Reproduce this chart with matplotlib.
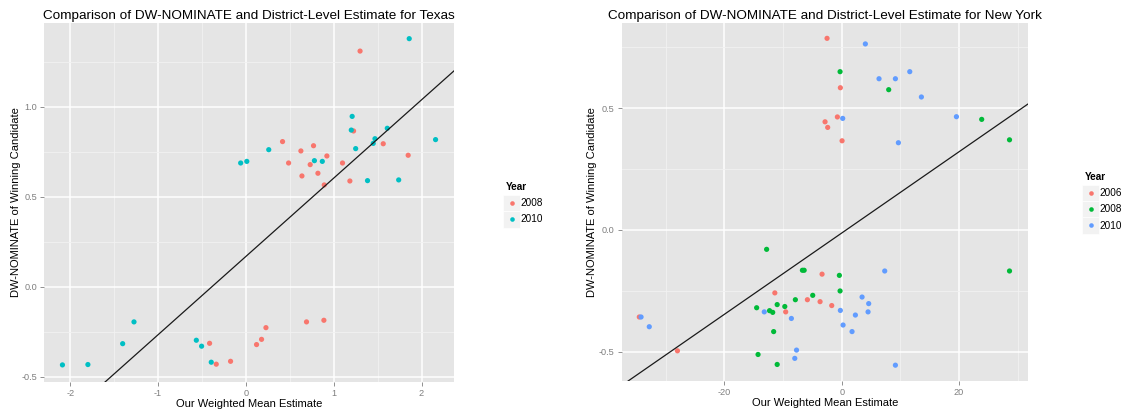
import matplotlib
matplotlib.use("Agg")
import matplotlib.pyplot as plt
from matplotlib.lines import Line2D
from matplotlib.patches import Rectangle
from matplotlib.ticker import MultipleLocator

plt.rcParams["font.family"] = ["Liberation Sans", "DejaVu Sans"]
plt.rcParams["axes.unicode_minus"] = False

# ---------------- Texas ----------------
tx_2008_x = [1.30, 1.226, 0.417, 0.770, 0.626, 1.564, 1.848, 0.922, 0.486, 0.732,
             1.10, 0.82, 0.638, 1.184, 0.892, 0.69, 0.888, 0.228, 0.178, 0.121,
             -0.414, -0.338, -0.175]
tx_2008_y = [1.309, 0.865, 0.806, 0.783, 0.754, 0.794, 0.730, 0.726, 0.687, 0.678,
             0.687, 0.630, 0.615, 0.587, 0.565, -0.196, -0.187, -0.228, -0.293, -0.322,
             -0.315, -0.431, -0.415]
tx_2010_x = [1.86, 1.21, 1.20, 1.61, 1.47, 1.45, 2.16, 1.25, 0.26, -0.06,
             0.01, 0.78, 0.87, 1.385, 1.74, -1.275, -1.404, -0.565, -0.505, -0.395,
             -2.09, -1.80]
tx_2010_y = [1.378, 0.946, 0.870, 0.880, 0.822, 0.796, 0.817, 0.767, 0.761, 0.687,
             0.696, 0.700, 0.696, 0.589, 0.593, -0.196, -0.317, -0.298, -0.331, -0.420,
             -0.435, -0.433]
tx_fit = (0.168, 0.435)  # intercept, slope

# ---------------- New York ----------------
ny_2006_x = [-2.5, -0.23, -0.74, -2.84, -2.39, 0.06, -34.5, -28.0, -3.35, -11.4,
             -5.85, -3.69, -1.70, -9.55]
ny_2006_y = [0.787, 0.584, 0.464, 0.444, 0.421, 0.366, -0.358, -0.497, -0.182, -0.259,
             -0.287, -0.295, -0.311, -0.337]
ny_2008_x = [-0.28, 8.01, 23.86, 28.6, -12.8, -6.7, -6.4, -0.4, -0.28, -4.94,
             -7.9, -14.5, -12.3, -11.76, -11.0, -9.7, -11.6, -14.26, -11.0, 28.6]
ny_2008_y = [0.650, 0.576, 0.454, 0.370, -0.080, -0.166, -0.166, -0.187, -0.251, -0.269,
             -0.287, -0.320, -0.332, -0.339, -0.307, -0.315, -0.418, -0.512, -0.553, -0.169]
ny_2010_x = [4.03, 6.36, 9.15, 11.6, 13.58, 0.17, 19.55, 9.66, -34.2, -32.8,
             7.33, -13.2, -8.58, -0.23, 3.47, 4.6, 4.49, 2.33, 0.23, 1.76,
             -7.7, -8.0, 9.15]
ny_2010_y = [0.764, 0.621, 0.621, 0.650, 0.546, 0.458, 0.465, 0.358, -0.358, -0.398,
             -0.169, -0.337, -0.364, -0.331, -0.276, -0.303, -0.337, -0.350, -0.391, -0.418,
             -0.494, -0.528, -0.556]
ny_fit = (-0.013, 0.0167)

RED, TEAL = "#F8766D", "#00BFC4"
GREEN, BLUE = "#00BA38", "#619CFF"

W, H = 1125, 415
fig = plt.figure(figsize=(W / 100, H / 100), dpi=100)


def px_axes(x0, x1, y0, y1):
    return fig.add_axes([x0 / W, 1 - y1 / H, (x1 - x0) / W, (y1 - y0) / H])


def style(ax, xmaj, xmin, ymaj, ymin):
    ax.set_facecolor("#E5E5E5")
    for s in ax.spines.values():
        s.set_visible(False)
    ax.xaxis.set_major_locator(MultipleLocator(xmaj))
    ax.xaxis.set_minor_locator(MultipleLocator(xmin))
    ax.yaxis.set_major_locator(MultipleLocator(ymaj))
    ax.yaxis.set_minor_locator(MultipleLocator(ymin))
    ax.grid(which="major", color="white", linewidth=1.1)
    ax.grid(which="minor", color="#F2F2F2", linewidth=0.6)
    ax.set_axisbelow(True)
    ax.tick_params(which="major", length=3, width=0.6, color="#7F7F7F",
                   labelcolor="#7F7F7F", labelsize=6.6, pad=2)
    ax.tick_params(which="minor", length=0)


def legend(ax, handles, labels, x, y):
    leg = fig.legend(handles, labels, title="Year", loc="upper left",
                     bbox_to_anchor=(x / W, 1 - y / H), frameon=False,
                     fontsize=7.2, title_fontsize=7.2, borderpad=0,
                     handlelength=1.1, handletextpad=0.35, labelspacing=0.62,
                     alignment="left")
    leg.get_title().set_fontweight("bold")
    return leg


def scatter_pts(ax, x, y, c):
    ax.scatter(x, y, s=14, color=c, edgecolors="none", zorder=3)


TITLE_FS = 9.7
LABEL_FS = 8.0

# Texas panel
ax1 = px_axes(44, 454, 23, 382)
style(ax1, 1, 0.5, 0.5, 0.25)
ax1.set_xlim(-2.30, 2.37)
ax1.set_ylim(-0.53, 1.465)
scatter_pts(ax1, tx_2008_x, tx_2008_y, RED)
scatter_pts(ax1, tx_2010_x, tx_2010_y, TEAL)
ax1.axline((0, tx_fit[0]), slope=tx_fit[1], color="#1a1a1a", linewidth=0.9, zorder=4)
ax1.set_title("Comparison of DW-NOMINATE and District-Level Estimate for Texas",
              fontsize=TITLE_FS, pad=3)
ax1.set_xlabel("Our Weighted Mean Estimate", fontsize=LABEL_FS, labelpad=1)
ax1.set_ylabel("DW-NOMINATE of Winning Candidate", fontsize=LABEL_FS, va="center")
ax1.yaxis.set_label_coords(-0.069, 0.5)

# New York panel
ax2 = px_axes(621.7, 1027.7, 23, 381)
style(ax2, 20, 10, 0.5, 0.25)
ax2.set_xlim(-37.5, 31.7)
ax2.set_ylim(-0.621, 0.850)
scatter_pts(ax2, ny_2006_x, ny_2006_y, RED)
scatter_pts(ax2, ny_2008_x, ny_2008_y, GREEN)
scatter_pts(ax2, ny_2010_x, ny_2010_y, BLUE)
ax2.axline((0, ny_fit[0]), slope=ny_fit[1], color="#1a1a1a", linewidth=0.9, zorder=4)
ax2.set_title("Comparison of DW-NOMINATE and District-Level Estimate for New York",
              fontsize=TITLE_FS, pad=3)
ax2.set_xlabel("Our Weighted Mean Estimate", fontsize=LABEL_FS, labelpad=1)
ax2.set_ylabel("DW-NOMINATE of Winning Candidate", fontsize=LABEL_FS, va="center")
ax2.yaxis.set_label_coords(-0.073, 0.5)


def mk(c):
    return Line2D([], [], marker="o", linestyle="none", markersize=3.3,
                  markerfacecolor=c, markeredgecolor="none")


leg1 = legend(ax1, [mk(RED), mk(TEAL)], ["2008", "2010"], 501, 177)
leg2 = legend(ax2, [mk(RED), mk(GREEN), mk(BLUE)], ["2006", "2008", "2010"], 1080, 167)

# light key backgrounds behind the legend markers
fig.canvas.draw()
for leg in (leg1, leg2):
    for h, t in zip(leg.legend_handles, leg.get_texts()):
        tb = t.get_window_extent()
        hb = h.get_window_extent()
        cy = (tb.y0 + tb.y1) / 2
        cx = (hb.x0 + hb.x1) / 2
        size = 16.5
        fig.patches.append(Rectangle(((cx - size / 2) / W, (cy - size / 2) / H),
                                     size / W, size / H, transform=fig.transFigure,
                                     facecolor="#F2F2F2", edgecolor="white",
                                     linewidth=0.5, zorder=0))

fig.savefig("out.png", dpi=100)
